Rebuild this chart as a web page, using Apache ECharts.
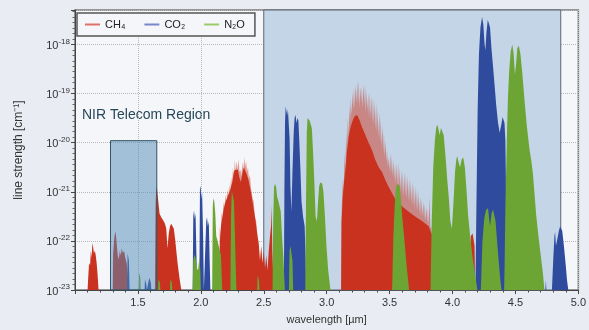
<!DOCTYPE html>
<html lang="en">
<head>
    <meta charset="UTF-8">
    <title>Line strengths</title>
    <script src="https://cdn.jsdelivr.net/npm/echarts@6/dist/echarts.min.js"></script>
    <style>
        html, body { margin: 0; padding: 0; background: #e9ecf3; }
        #main { width: 589px; height: 330px; }
    </style>
</head>
<body>
<div id="main"></div>
<script>
    // [wavelength um, log10(line strength)]
    const ch4 = [
        [1.10,-23],[1.105,-22.75],[1.112,-22.45],[1.12,-22.5],[1.126,-22.2],[1.132,-22.35],[1.138,-22.05],[1.144,-22.12],[1.15,-22.25],[1.158,-22.2],[1.165,-22.3],[1.172,-22.45],[1.18,-22.7],[1.187,-23],
        [1.30,-23],[1.303,-22.25],[1.312,-21.95],[1.32,-21.8],[1.326,-21.9],[1.333,-22.1],[1.34,-22.3],[1.348,-22.38],[1.356,-22.2],[1.364,-22.3],[1.372,-22.15],[1.38,-22.25],[1.39,-22.2],[1.40,-22.35],[1.41,-22.45],[1.42,-22.7],[1.43,-23],
        [1.635,-23],[1.64,-21.3],[1.646,-20.88],[1.652,-20.95],[1.66,-21.15],[1.672,-21.45],[1.685,-21.52],[1.695,-21.48],[1.705,-21.6],[1.715,-21.65],[1.725,-21.75],[1.735,-22.15],[1.745,-21.85],[1.755,-21.7],[1.765,-21.65],[1.775,-21.7],[1.785,-21.75],[1.795,-21.95],[1.805,-22.2],[1.815,-22.45],[1.83,-22.75],[1.845,-23],
        [2.145,-23],[2.152,-22.0],[2.16,-21.7],[2.175,-21.45],[2.19,-21.25],[2.205,-21.15],[2.22,-21.05],[2.235,-20.95],[2.25,-20.8],[2.262,-20.6],[2.272,-20.55],[2.285,-20.55],[2.295,-20.55],[2.305,-20.7],[2.318,-20.8],[2.33,-20.62],[2.342,-20.5],[2.352,-20.52],[2.365,-20.65],[2.378,-20.75],[2.39,-20.9],[2.405,-21.1],[2.42,-21.35],[2.435,-21.6],[2.45,-21.9],[2.46,-22.05],[2.47,-22.4],[2.48,-22.1],[2.49,-22.45],[2.50,-22.2],[2.51,-22.55],[2.52,-22.3],[2.53,-22.6],[2.54,-22.2],[2.55,-21.9],[2.558,-21.7],[2.563,-21.28],[2.568,-22.2],[2.58,-23],
        [3.115,-23],[3.118,-21.6],[3.128,-21.1],[3.138,-20.8],[3.149,-20.54],[3.162,-20.15],[3.175,-19.87],[3.188,-19.7],[3.20,-19.6],[3.215,-19.5],[3.228,-19.45],[3.245,-19.45],[3.262,-19.55],[3.28,-19.68],[3.30,-19.8],[3.333,-20.0],[3.36,-20.15],[3.386,-20.35],[3.413,-20.5],[3.44,-20.6],[3.466,-20.76],[3.492,-20.9],[3.52,-21.03],[3.545,-21.15],[3.57,-21.2],[3.60,-21.3],[3.65,-21.4],[3.70,-21.5],[3.76,-21.6],[3.81,-21.7],[3.84,-21.9],[3.87,-22.3],[3.90,-23],
        [4.14,-23],[4.145,-21.9],[4.16,-21.85],[4.175,-22.1],[4.18,-23]
    ];
    // fainter individual lines standing above the dense band cores
    const ch4Lines = [
        [2.145,-23],[2.15,-21.7],[2.158,-21.9],[2.165,-21.4],[2.172,-21.6],[2.18,-21.2],[2.188,-21.4],[2.195,-21.05],[2.203,-21.25],[2.21,-20.95],[2.218,-21.15],[2.225,-20.85],[2.233,-21.05],[2.24,-20.7],[2.248,-20.9],[2.255,-20.5],[2.262,-20.75],[2.27,-20.35],[2.277,-20.6],[2.285,-20.38],[2.292,-20.55],[2.30,-20.34],[2.307,-20.6],[2.315,-20.55],[2.322,-20.7],[2.33,-20.4],[2.337,-20.6],[2.345,-20.3],[2.352,-20.5],[2.36,-20.38],[2.367,-20.6],[2.375,-20.5],[2.382,-20.75],[2.39,-20.65],[2.397,-20.9],[2.405,-20.9],[2.412,-21.15],[2.42,-21.2],[2.43,-21.5],[2.44,-21.6],[2.45,-21.9],[2.46,-23],
        [3.115,-23],[3.12,-21.3],[3.13,-20.7],[3.136,-21.0],[3.142,-20.2],[3.148,-20.6],[3.155,-19.8],[3.161,-20.2],[3.168,-19.5],[3.174,-19.9],[3.18,-19.25],[3.186,-19.6],[3.192,-19.1],[3.198,-19.45],[3.205,-18.98],[3.211,-19.35],[3.217,-18.88],[3.223,-19.3],[3.23,-18.82],[3.236,-19.2],[3.243,-18.75],[3.249,-19.25],[3.255,-18.73],[3.261,-19.3],[3.268,-18.85],[3.274,-19.2],[3.28,-18.87],[3.286,-19.3],[3.293,-18.8],[3.299,-19.25],[3.305,-18.8],[3.311,-19.4],[3.318,-18.95],[3.324,-19.35],[3.33,-19.0],[3.336,-19.5],[3.343,-18.98],[3.349,-19.5],[3.355,-19.05],[3.361,-19.6],[3.368,-19.08],[3.374,-19.65],[3.38,-19.13],[3.386,-19.75],[3.393,-19.2],[3.399,-19.8],[3.405,-19.3],[3.411,-19.9],[3.418,-19.38],[3.424,-20.0],[3.43,-19.5],[3.436,-20.1],[3.443,-19.65],[3.449,-20.2],[3.455,-19.8],[3.461,-20.3],[3.468,-19.95],[3.474,-20.4],[3.48,-20.15],[3.486,-20.5],[3.493,-20.3],[3.499,-20.6],[3.505,-20.2],[3.511,-20.65],[3.518,-20.27],[3.524,-20.7],[3.53,-20.35],[3.536,-20.75],[3.543,-20.45],[3.549,-20.85],[3.555,-20.4],[3.561,-20.9],[3.568,-20.4],[3.574,-20.95],[3.58,-20.5],[3.586,-21.0],[3.593,-20.55],[3.599,-21.05],[3.605,-20.6],[3.611,-21.1],[3.618,-20.6],[3.624,-21.1],[3.63,-20.65],[3.636,-21.15],[3.643,-20.67],[3.649,-21.2],[3.655,-20.72],[3.661,-21.2],[3.668,-20.78],[3.674,-21.25],[3.68,-20.8],[3.686,-21.3],[3.693,-20.85],[3.699,-21.35],[3.705,-20.9],[3.711,-21.35],[3.718,-20.95],[3.724,-21.4],[3.73,-21.0],[3.736,-21.45],[3.743,-21.1],[3.749,-21.5],[3.755,-21.15],[3.761,-21.5],[3.768,-21.2],[3.774,-21.55],[3.78,-21.25],[3.786,-21.6],[3.793,-21.3],[3.799,-21.65],[3.805,-21.35],[3.811,-21.7],[3.818,-21.1],[3.824,-21.75],[3.83,-21.7],[3.85,-22.2],[3.88,-22.4],[3.90,-23]
    ];
    const co2 = [
        [1.414,-23],[1.418,-22.25],[1.424,-22.22],[1.428,-22.4],[1.434,-23],
        [1.553,-23],[1.556,-22.78],[1.562,-22.76],[1.568,-22.9],[1.571,-23],
        [1.586,-23],[1.59,-22.75],[1.597,-22.72],[1.603,-22.85],[1.607,-23],
        [1.935,-23],[1.94,-21.5],[1.946,-21.38],[1.952,-21.55],[1.958,-21.45],[1.965,-22.3],[1.97,-23],
        [1.988,-23],[1.993,-20.95],[1.998,-20.88],[2.004,-21.15],[2.01,-21.0],[2.018,-21.9],[2.024,-23],
        [2.038,-23],[2.043,-21.6],[2.049,-21.52],[2.056,-21.7],[2.063,-21.6],[2.07,-22.4],[2.076,-23],
        [2.66,-23],[2.664,-21.0],[2.669,-19.6],[2.674,-19.26],[2.68,-19.3],[2.686,-19.45],[2.692,-19.32],[2.698,-19.35],[2.705,-19.9],[2.712,-20.9],[2.72,-21.4],[2.728,-20.6],[2.738,-19.8],[2.745,-19.5],[2.752,-19.43],[2.76,-19.6],[2.768,-19.5],[2.775,-19.55],[2.783,-20.0],[2.792,-20.6],[2.80,-21.2],[2.812,-21.5],[2.825,-21.7],[2.832,-22.3],[2.838,-23],
        [4.182,-23],[4.19,-21.3],[4.20,-19.3],[4.21,-18.2],[4.222,-17.65],[4.235,-17.44],[4.245,-17.6],[4.255,-18.0],[4.261,-18.12],[4.27,-17.75],[4.28,-17.5],[4.288,-17.47],[4.298,-17.65],[4.31,-18.1],[4.322,-18.45],[4.335,-18.85],[4.348,-19.26],[4.362,-19.6],[4.375,-19.8],[4.39,-19.6],[4.398,-19.48],[4.406,-19.46],[4.413,-19.6],[4.42,-19.95],[4.426,-21.2],[4.432,-23],
        [4.738,-23],[4.742,-22.8],[4.746,-23],
        [4.79,-23],[4.80,-22.4],[4.81,-21.9],[4.815,-21.82],[4.822,-22.1],[4.83,-22.0],[4.845,-21.8],[4.855,-21.7],[4.862,-21.69],[4.872,-21.8],[4.885,-22.1],[4.90,-22.5],[4.91,-22.8],[4.92,-23]
    ];
    const n2o = [
        [1.506,-23],[1.509,-22.65],[1.514,-22.63],[1.519,-22.75],[1.522,-23],
        [1.66,-23],[1.663,-22.78],[1.669,-22.76],[1.675,-22.85],[1.678,-23],
        [1.755,-23],[1.758,-22.78],[1.764,-22.76],[1.77,-22.85],[1.773,-23],
        [1.935,-23],[1.94,-22.4],[1.948,-22.28],[1.958,-22.35],[1.968,-22.55],[1.978,-22.6],[1.988,-22.35],[1.996,-22.6],[2.0,-23],
        [2.09,-23],[2.095,-21.3],[2.10,-21.13],[2.107,-21.2],[2.115,-21.45],[2.122,-21.9],[2.13,-21.97],[2.145,-22.0],[2.16,-22.3],[2.17,-23],
        [2.235,-23],[2.24,-21.5],[2.246,-20.98],[2.255,-20.95],[2.263,-21.2],[2.27,-21.8],[2.278,-22.6],[2.283,-23],
        [2.448,-23],[2.451,-22.7],[2.458,-22.68],[2.462,-22.8],[2.466,-23],
        [2.57,-23],[2.575,-21.6],[2.582,-20.9],[2.59,-20.84],[2.598,-20.9],[2.606,-21.1],[2.615,-21.18],[2.625,-21.2],[2.635,-21.4],[2.645,-21.9],[2.655,-22.3],[2.668,-23],
        [2.70,-23],[2.705,-22.2],[2.712,-22.1],[2.72,-22.12],[2.728,-22.4],[2.734,-23],
        [2.83,-23],[2.836,-21.2],[2.842,-19.8],[2.848,-19.5],[2.856,-19.48],[2.864,-19.55],[2.872,-19.52],[2.882,-19.7],[2.892,-20.2],[2.902,-20.8],[2.912,-21.5],[2.922,-21.6],[2.932,-21.2],[2.94,-20.9],[2.948,-20.81],[2.956,-20.85],[2.964,-20.83],[2.974,-21.0],[2.986,-21.5],[2.998,-22.1],[3.012,-22.6],[3.03,-23],
        [3.52,-23],[3.53,-21.9],[3.54,-21.3],[3.55,-20.95],[3.56,-20.84],[3.57,-20.81],[3.58,-20.88],[3.59,-21.15],[3.60,-21.5],[3.615,-21.9],[3.635,-22.5],[3.655,-23],
        [3.825,-23],[3.835,-21.6],[3.847,-20.5],[3.86,-19.95],[3.87,-19.7],[3.879,-19.63],[3.888,-19.72],[3.898,-19.85],[3.908,-19.7],[3.918,-19.66],[3.93,-19.85],[3.945,-20.3],[3.958,-20.75],[3.97,-21.1],[3.983,-21.6],[3.995,-21.75],[4.008,-21.2],[4.02,-20.6],[4.03,-20.35],[4.037,-20.27],[4.048,-20.4],[4.06,-20.5],[4.072,-20.35],[4.085,-20.3],[4.098,-20.5],[4.112,-21.0],[4.124,-21.48],[4.14,-21.9],[4.16,-22.35],[4.18,-22.7],[4.198,-23],
        [4.225,-23],[4.238,-22.0],[4.252,-21.55],[4.265,-21.38],[4.282,-21.33],[4.298,-21.7],[4.31,-21.45],[4.322,-21.36],[4.33,-21.35],[4.342,-21.6],[4.36,-22.2],[4.38,-22.8],[4.39,-23],
        [4.41,-23],[4.414,-22.5],[4.42,-21.3],[4.427,-20.47],[4.434,-19.7],[4.44,-19.13],[4.45,-18.55],[4.462,-18.15],[4.475,-18.0],[4.486,-18.2],[4.496,-18.62],[4.505,-18.4],[4.515,-18.08],[4.527,-18.03],[4.54,-18.2],[4.555,-18.6],[4.572,-19.13],[4.59,-19.65],[4.612,-20.14],[4.625,-20.35],[4.638,-20.61],[4.652,-21.05],[4.665,-21.48],[4.685,-21.95],[4.704,-22.36],[4.72,-22.7],[4.73,-23]
    ];
    const nirRegion = [1.282, 1.65, -19.96];   // x from, x to, top
    const mirRegion = [2.5, 4.86, -17.3];

    const font = 'Liberation Sans';
    const red = '#c9321f', blue = '#2f4b9e', green = '#6ca534';

    function band(name, data, color, z) {
        return {
            name: name, type: 'line', data: data, z: z,
            symbol: 'none', silent: true,
            lineStyle: {width: 0},
            itemStyle: {color: color},
            areaStyle: {color: color, opacity: 1, origin: 'start'}
        };
    }

    const chart = echarts.init(document.getElementById('main'));
    chart.setOption({
        animation: false,
        textStyle: {fontFamily: font},
        grid: {
            left: 75, right: 8, top: 10, bottom: 38,
            show: true, backgroundColor: '#f5f6f9', borderColor: '#777', borderWidth: 1.5
        },
        legend: {
            left: 77, top: 13,
            padding: [6, 10, 6, 8],
            itemGap: 19, itemWidth: 15, itemHeight: 2,
            borderColor: '#555', borderWidth: 1.5,
            backgroundColor: '#f5f6f9',
            icon: 'rect',
            textStyle: {fontSize: 11, color: '#222', fontFamily: font},
            data: [
                {name: 'CH₄', itemStyle: {color: '#e0706a'}},
                {name: 'CO₂', itemStyle: {color: '#7a86cc'}},
                {name: 'N₂O', itemStyle: {color: '#9ccc6a'}}
            ]
        },
        xAxis: {
            type: 'value', min: 1.0, max: 5.0, interval: 0.5,
            name: 'wavelength [µm]', nameLocation: 'middle', nameGap: 24,
            nameTextStyle: {fontSize: 11, color: '#333'},
            axisLine: {lineStyle: {color: '#444'}},
            axisTick: {length: 4, lineStyle: {color: '#444'}},
            minorTick: {show: true, splitNumber: 5, length: 2.5, lineStyle: {color: '#444'}},
            axisLabel: {
                fontSize: 11, color: '#333', margin: 7,
                formatter: v => v < 1.2 ? '' : v.toFixed(1)
            },
            splitLine: {show: true, lineStyle: {color: '#b8b8b8', type: 'dotted'}}
        },
        yAxis: {
            type: 'value', min: -23, max: mirRegion[2], interval: 1,
            name: 'line strength [cm⁻¹]', nameLocation: 'middle', nameGap: 50,
            nameTextStyle: {fontSize: 12, color: '#333'},
            axisLine: {show: true, lineStyle: {color: '#444'}},
            axisTick: {length: 4, lineStyle: {color: '#444'}},
            minorTick: {show: true, splitNumber: 9, length: 2.5, lineStyle: {color: '#666'}},
            axisLabel: {
                margin: 5,
                formatter: v => Math.abs(v - Math.round(v)) > 0.01 ? '' : '{b|10}{s|' + Math.round(v) + '}',
                rich: {
                    b: {fontSize: 11, color: '#333', lineHeight: 14, verticalAlign: 'bottom'},
                    s: {fontSize: 8, color: '#333', lineHeight: 8, verticalAlign: 'top'}
                }
            },
            splitLine: {show: true, lineStyle: {color: '#b8b8b8', type: 'dotted'}}
        },
        graphic: [
            {type: 'text', left: 82, top: 108, style: {text: 'NIR Telecom Region', font: '14px ' + font, fill: '#27475a'}},
            {type: 'text', left: 338, top: 32, style: {text: 'MIR C-H, O-H, C-\nO, N-O Stretch\nregion', font: '14px ' + font, fill: '#27475a', lineHeight: 18.5}}
        ],
        series: [
            {
                name: 'mir', type: 'line', data: [], silent: true,
                markArea: {
                    z: 1, silent: true,
                    itemStyle: {color: '#c3d5e7', borderColor: '#5d6673', borderWidth: 1},
                    data: [[{xAxis: mirRegion[0], yAxis: -23}, {xAxis: mirRegion[1], yAxis: mirRegion[2]}]]
                }
            },
            band('CH₄', ch4Lines, 'rgba(205,55,35,0.5)', 2),
            band('CH₄', ch4, red, 3),
            band('CO₂', co2, blue, 3),
            band('N₂O', n2o, green, 3),
            {
                name: 'nir', type: 'line', data: [], silent: true, z: 10,
                markArea: {
                    z: 10, silent: true,
                    itemStyle: {color: 'rgba(81,137,185,0.5)', borderColor: '#2f5565', borderWidth: 1},
                    data: [[{xAxis: nirRegion[0], yAxis: -23}, {xAxis: nirRegion[1], yAxis: nirRegion[2]}]]
                }
            }
        ]
    });
</script>
</html>
